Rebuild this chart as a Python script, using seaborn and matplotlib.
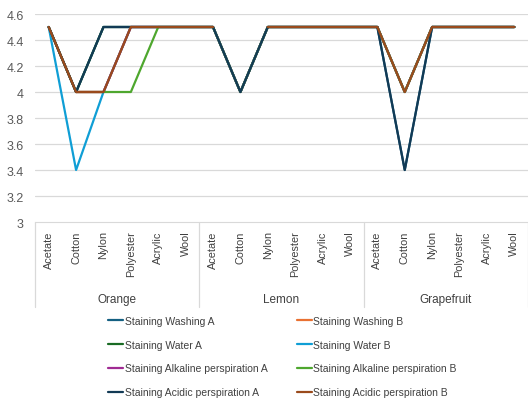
import pandas as pd
import seaborn as sns
import matplotlib.pyplot as plt
import numpy as np

fruits = ['Orange', 'Lemon', 'Grapefruit']
fabrics = ['Acetate', 'Cotton', 'Nylon', 'Polyester', 'Acrylic', 'Wool']

series_names = ['Staining Washing A', 'Staining Washing B',
                'Staining Water A', 'Staining Water B',
                'Staining Alkaline perspiration A', 'Staining Alkaline perspiration B',
                'Staining Acidic perspiration A', 'Staining Acidic perspiration B']

nan = np.nan
# values per series, Orange (6) + Lemon (6) + Grapefruit (6)
washing_a = [4.5, 4.0, 4.5, 4.5, 4.5, 4.5, 4.5, 4.0, 4.5, 4.5, 4.5, 4.5, 4.5, 3.4, 4.5, 4.5, 4.5, 4.5]
washing_b = [4.5, 4.0, 4.0, 4.5, 4.5, 4.5, 4.5, 4.0, 4.5, 4.5, 4.5, 4.5, 4.5, 4.0, 4.5, 4.5, 4.5, 4.5]
water_a = [4.5, 4.0, 4.5, 4.5, 4.5, 4.5, 4.5, 4.0, 4.5, 4.5, 4.5, 4.5, 4.5, 4.0, 4.5, 4.5, 4.5, 4.5]
water_b = [4.5, 3.4, 4.0, 4.5, 4.5, 4.5, 4.5, 4.0, 4.5, 4.5, 4.5, 4.5, 4.5, 4.0, 4.5, 4.5, 4.5, 4.5]
alkaline_a = [4.5, 4.0, 4.0, 4.5, 4.5, 4.5, 4.5, 4.0, 4.5, 4.5, 4.5, 4.5, 4.5, 4.0, 4.5, 4.5, 4.5, 4.5]
alkaline_b = [4.5, 4.0, 4.0, 4.0, 4.5, 4.5, 4.5, 4.0, 4.5, 4.5, 4.5, 4.5, 4.5, 4.0, 4.5, 4.5, 4.5, 4.5]
acidic_a = [4.5, 4.0, 4.5, 4.5, 4.5, 4.5, 4.5, 4.0, 4.5, 4.5, 4.5, 4.5, 4.5, 3.4, 4.5, 4.5, 4.5, 4.5]
acidic_b = [4.5, 4.0, 4.0, 4.5, 4.5, 4.5, 4.5, nan, 4.5, 4.5, 4.5, 4.5, 4.5, 4.0, 4.5, 4.5, 4.5, 4.5]

colors = ['#156082', '#E97132', '#196B24', '#0F9ED5',
          '#A02B93', '#4EA72E', '#123A55', '#9A4A1C']

all_values = [washing_a, washing_b, water_a, water_b,
              alkaline_a, alkaline_b, acidic_a, acidic_b]

# long form; a new segment id starts after each missing value so the line breaks there
rows = []
for name, vals in zip(series_names, all_values):
    seg = 0
    for i, v in enumerate(vals):
        if np.isnan(v):
            seg += 1
            continue
        rows.append({'pos': i, 'series': name, 'value': v, 'seg': seg})
df = pd.DataFrame(rows)

sns.set_style('white')
plt.rcParams['font.family'] = ['Liberation Sans', 'DejaVu Sans']

fig = plt.figure(figsize=(5.28, 4.02), dpi=100)
ax = fig.add_axes([35 / 528, 1 - 223 / 402, 493 / 528, 208 / 402])

sns.lineplot(data=df, x='pos', y='value', hue='series', hue_order=series_names,
             units='seg', estimator=None,
             palette=dict(zip(series_names, colors)), linewidth=1.6,
             sort=False, ax=ax, legend=True)

n = len(fruits) * len(fabrics)
ax.set_xlim(-0.5, n - 0.5)
ax.set_ylim(3, 4.6)
ticks = np.arange(3, 4.61, 0.2)
ax.set_yticks(ticks)
ax.set_yticklabels(['%g' % round(t, 1) for t in ticks], color='#595959', fontsize=9)
ax.tick_params(axis='y', length=0, pad=8)
ax.set_xticks([])
ax.set_xlabel('')
ax.set_ylabel('')
for t in ticks[1:]:
    ax.axhline(t, color='#d9d9d9', lw=0.9, zorder=0)
for s in ['left', 'right', 'top']:
    ax.spines[s].set_visible(False)
ax.spines['bottom'].set_color('#d9d9d9')

# category labels
trans = ax.get_xaxis_transform()
for i in range(n):
    ax.text(i, -0.04, fabrics[i % len(fabrics)], rotation=90, ha='center', va='top',
            fontsize=7.8, color='#404040', transform=trans)
for g, fruit in enumerate(fruits):
    ax.text(g * len(fabrics) + (len(fabrics) - 1) / 2, -0.37, fruit, ha='center', va='center',
            fontsize=8.5, color='#404040', transform=trans)
for g in range(len(fruits) + 1):
    ax.plot([g * len(fabrics) - 0.5] * 2, [0, -0.41], color='#d9d9d9', lw=0.9,
            transform=trans, clip_on=False)

handles, labels = ax.get_legend_handles_labels()
ax.get_legend().remove()
order = [0, 2, 4, 6, 1, 3, 5, 7]
fig.legend([handles[i] for i in order], [labels[i] for i in order],
           ncol=2, loc='upper left', bbox_to_anchor=(108 / 528, 1 - 317 / 402),
           frameon=False, fontsize=7.5, handlelength=1.45, handletextpad=0.15,
           labelspacing=1.32, columnspacing=2.8, borderaxespad=0, borderpad=0,
           labelcolor='#404040')

fig.savefig('out.png', dpi=100)
